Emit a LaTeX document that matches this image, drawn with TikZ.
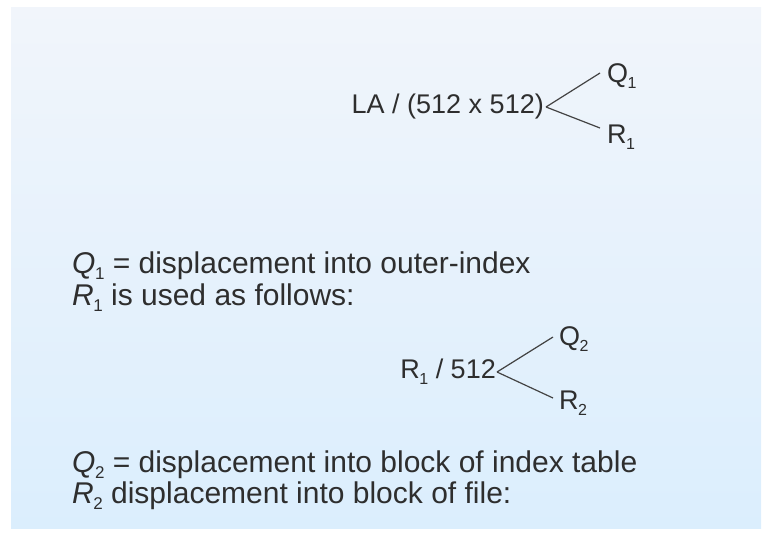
\documentclass[tikz,border=0pt]{standalone}
\usepackage{fontspec}
\setmainfont{Liberation Sans}
\definecolor{txt}{HTML}{2E2E2E}
\definecolor{bgtop}{HTML}{F1F5FB}
\definecolor{bgbot}{HTML}{DBEEFD}
\newcommand{\mysub}[2]{\kern-0.5pt\raisebox{-0.22em}{\fontsize{#1}{#1}\selectfont #2}}
\begin{document}
\begin{tikzpicture}[x=1pt,y=-1pt,
  lbl/.style={inner sep=0pt,text=txt,font=\fontsize{27}{27}\selectfont},
  body/.style={inner sep=0pt,text=txt,font=\fontsize{30}{30}\selectfont},
  ln/.style={draw=txt!90,line width=1.2pt}]
\useasboundingbox (0,0) rectangle (775,539);
\shade[top color=bgtop,bottom color=bgbot] (11,7) rectangle (761,528);
% first division
\node[lbl,anchor=east] (la) at (544,107) {LA / (512 x 512)};
\node[lbl,anchor=west] (q1) at (607,76) {Q\mysub{16}{1}};
\node[lbl,anchor=west] (r1) at (607,137) {R\mysub{16}{1}};
\coordinate (la0) at (546,107);
\coordinate (q1e) at (600,73);
\coordinate (r1e) at (600,128);
\draw[ln] (la0) -- (q1e);
\draw[ln] (la0) -- (r1e);
% text lines
\node[body,anchor=base west] (t1) at (72,273) {\textit{Q}\mysub{17}{1} = displacement into outer-index};
\node[body,anchor=base west] (t2) at (72,305) {\textit{R}\mysub{17}{1} is used as follows:};
% second division
\node[lbl,anchor=east] (r512) at (496,372) {R\mysub{16}{1} / 512};
\node[lbl,anchor=west] (q2) at (559,339) {Q\mysub{16}{2}};
\node[lbl,anchor=west] (r2) at (559,403) {R\mysub{16}{2}};
\coordinate (r0) at (497,372);
\coordinate (q2e) at (553,337);
\coordinate (r2e) at (553,398);
\draw[ln] (r0) -- (q2e);
\draw[ln] (r0) -- (r2e);
\node[body,anchor=base west] (t3) at (72,472) {\textit{Q}\mysub{17}{2} = displacement into block of index table};
\node[body,anchor=base west] (t4) at (72,503) {\textit{R}\mysub{17}{2} displacement into block of file:};
\end{tikzpicture}
\end{document}
